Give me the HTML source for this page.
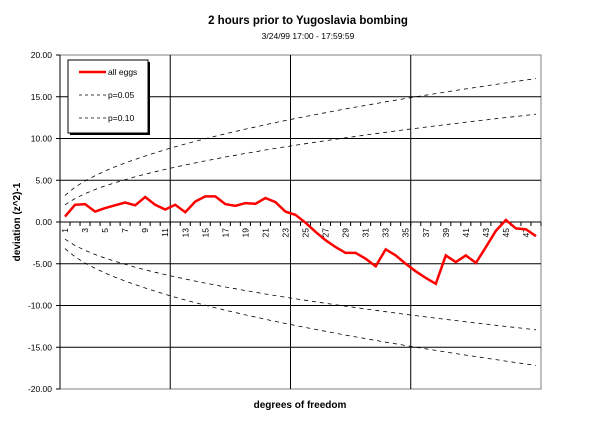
<!DOCTYPE html>
<html><head><meta charset="utf-8"><style>
html,body{margin:0;padding:0;background:#fff;}
svg{display:block;font-family:"Liberation Sans",Arial,sans-serif;}
</style></head><body>
<svg id="chart" width="615" height="421" viewBox="0 0 615 421">
<text x="308" y="24" text-anchor="middle" font-size="11.5" font-weight="bold">2 hours prior to Yugoslavia bombing</text>
<text x="308" y="39" text-anchor="middle" font-size="8.5">3/24/99 17:00 - 17:59:59</text>
<text transform="translate(20,222) rotate(-90)" text-anchor="middle" font-size="10" font-weight="bold">deviation (z^2)-1</text>
<text x="300" y="408" text-anchor="middle" font-size="10" font-weight="bold">degrees of freedom</text>
<g id="grid"></g>
<g id="axes"></g>
<g id="series"></g>
<g>
<rect x="70" y="62" width="80" height="73" fill="#000"/>
<rect x="68" y="60" width="80" height="73" fill="#fff" stroke="#000" stroke-width="1"/>
<line x1="79" y1="72" x2="106" y2="72" stroke="#f00" stroke-width="2.5"/>
<text x="108" y="75" font-size="8.5">all eggs</text>
<line x1="79" y1="95" x2="106" y2="95" stroke="#000" stroke-width="0.8" stroke-dasharray="3,3"/>
<text x="108" y="98" font-size="8.5">p=0.05</text>
<line x1="79" y1="118" x2="106" y2="118" stroke="#000" stroke-width="0.8" stroke-dasharray="3,3"/>
<text x="108" y="121" font-size="8.5">p=0.10</text>
</g>
</svg>
<script>
const categories = Array.from({length:48},(_, i)=>String(i+1));
const allEggs = [0.65,2.06,2.14,1.25,1.66,2.0,2.34,2.0,3.0,2.06,1.5,2.06,1.17,2.46,3.07,3.07,2.14,1.94,2.26,2.18,2.87,2.38,1.25,0.85,-0.08,-1.17,-2.18,-3.0,-3.7,-3.7,-4.4,-5.3,-3.27,-4.0,-5.0,-5.9,-6.7,-7.4,-4.0,-4.8,-4.0,-4.9,-3.0,-1.05,0.24,-0.77,-0.89,-1.7];
const p05 = [3.19,4.17,4.92,5.55,6.11,6.61,7.07,7.50,7.91,8.29,8.66,9.01,9.34,9.66,9.97,10.27,10.56,10.84,11.12,11.38,11.65,11.90,12.15,12.39,12.63,12.86,13.09,13.32,13.54,13.76,13.97,14.18,14.39,14.59,14.79,14.99,15.19,15.38,15.57,15.76,15.94,16.12,16.30,16.48,16.66,16.84,17.01,17.18];
const p10 = [2.06,2.82,3.40,3.89,4.32,4.71,5.07,5.41,5.72,6.02,6.30,6.57,6.83,7.08,7.32,7.55,7.78,7.99,8.21,8.41,8.62,8.81,9.01,9.20,9.38,9.56,9.74,9.91,10.08,10.25,10.42,10.58,10.74,10.90,11.06,11.21,11.36,11.51,11.66,11.80,11.95,12.09,12.23,12.37,12.51,12.64,12.78,12.91];
const yTicks = [20,15,10,5,0,-5,-10,-15,-20];
const yTickLabels = ["20.00","15.00","10.00","5.00","0.00","-5.00","-10.00","-15.00","-20.00"];

const NS="http://www.w3.org/2000/svg";
const L=60,R=541,T=55,B=389,YMIN=-20,YMAX=20;
const bw=(R-L)/categories.length;
function xPos(i){return L+(i+0.5)*bw;}
function yPos(v){return B-(v-YMIN)/(YMAX-YMIN)*(B-T);}
function mk(tag,attrs,parent){const e=document.createElementNS(NS,tag);for(const k in attrs)e.setAttribute(k,attrs[k]);parent.appendChild(e);return e;}
const grid=document.getElementById('grid'),axes=document.getElementById('axes'),series=document.getElementById('series');

mk('rect',{x:L,y:T,width:R-L,height:B-T,fill:'none',stroke:'#808080','stroke-width':1},grid);
yTicks.forEach((v,i)=>{
  const y=yPos(v);
  if(v!==YMIN&&v!==YMAX){const g=mk('line',{x1:L,y1:y,x2:R,y2:y,stroke:'#000','stroke-width':1},grid);
  
  }
  mk('line',{x1:L-4,y1:y,x2:L,y2:y,stroke:'#000'},axes);
  const t=mk('text',{x:L-8,y:y+3,'text-anchor':'end','font-size':'8.5'},axes);
  t.textContent=yTickLabels[i];
  
  
});
[11,23,35].forEach(b=>{
  const x=L+b*bw;
  const g=mk('line',{x1:x,y1:T,x2:x,y2:B,stroke:'#000','stroke-width':1},grid);
  
  
});
mk('line',{x1:L,y1:T,x2:L,y2:B,stroke:'#000'},axes);
const y0=yPos(0);
mk('line',{x1:L,y1:y0,x2:R,y2:y0,stroke:'#000'},axes);
for(let i=0;i<=categories.length;i++){mk('line',{x1:L+i*bw,y1:y0,x2:L+i*bw,y2:y0+4,stroke:'#000'},axes);}
categories.forEach((c,i)=>{
  if(i%2!==0)return;
  const x=xPos(i);
  const t=mk('text',{transform:`translate(${x+3},${y0+6}) rotate(-90)`,'text-anchor':'end','font-size':'8.5'},axes);
  t.textContent=c;
  
  
});
function line(vals,name,stroke,width,dash){
  const d=vals.map((v,i)=>(i?'L':'M')+xPos(i).toFixed(1)+','+yPos(v).toFixed(1)).join('');
  const p=mk('path',{d:d,fill:'none',stroke:stroke,'stroke-width':width},series);
  if(dash)p.setAttribute('stroke-dasharray',dash);
  
  
}
line(p05,'p05-upper-line','#000',0.8,'4,4');
line(p10,'p10-upper-line','#000',0.8,'4,4');
line(p05.map(v=>-v),'p05-lower-line','#000',0.8,'4,4');
line(p10.map(v=>-v),'p10-lower-line','#000',0.8,'4,4');
line(allEggs,'all-eggs-line','#f00',2.5,null);
</script>
</body></html>
